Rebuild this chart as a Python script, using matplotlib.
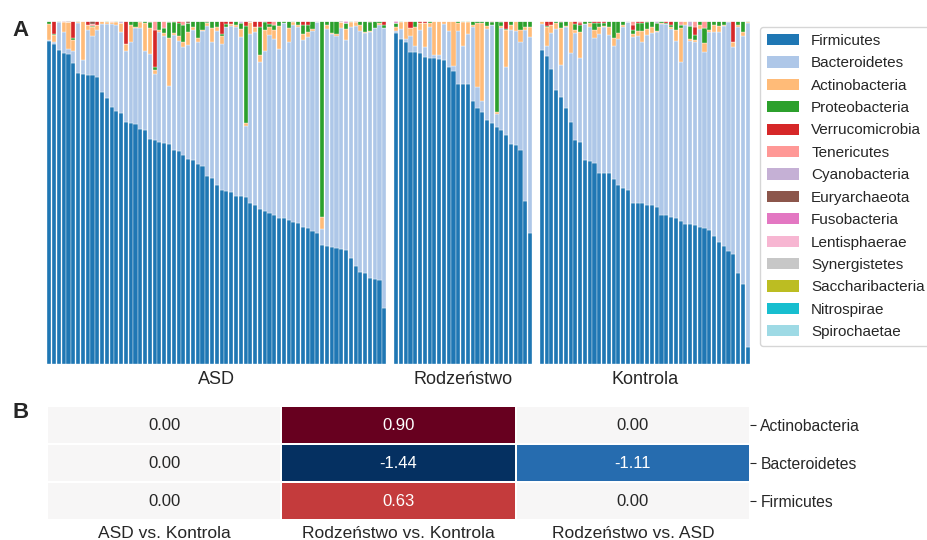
import numpy as np
import matplotlib
matplotlib.use("Agg")
import matplotlib.pyplot as plt
from matplotlib.colors import TwoSlopeNorm
from matplotlib.patches import Patch

plt.rcParams["font.family"] = ["Liberation Sans", "DejaVu Sans"]
plt.rcParams["text.color"] = "#262626"
plt.rcParams["xtick.labelcolor"] = "#262626"
plt.rcParams["ytick.labelcolor"] = "#262626"

# ---- phylum composition (% relative abundance) per sample ----
phyla = ["Firmicutes", "Bacteroidetes", "Actinobacteria", "Proteobacteria",
         "Verrucomicrobia", "Tenericutes", "Cyanobacteria", "Euryarchaeota",
         "Fusobacteria", "Lentisphaerae", "Synergistetes", "Saccharibacteria",
         "Nitrospirae", "Spirochaetae"]
phylum_colors = ["#1f77b4", "#aec7e8", "#ffbb78", "#2ca02c", "#d62728", "#ff9896",
                 "#c5b0d5", "#8c564b", "#e377c2", "#f7b6d2", "#c7c7c7", "#bcbd22",
                 "#17becf", "#9edae5"]

groups = ["ASD", "Rodzeństwo", "Kontrola"]

asd_firmicutes = [94.2, 93.1, 91.5, 90.6, 90.4, 87.6, 84.9, 84.6, 84.3, 84.1,
                  83.7, 79.1, 77.4, 75.0, 73.7, 73.1, 70.4, 70.3, 69.9, 68.5,
                  68.3, 65.5, 65.2, 64.7, 64.4, 64.0, 62.4, 61.9, 60.9, 59.6,
                  59.4, 58.4, 57.6, 54.9, 54.2, 52.2, 50.8, 50.3, 50.2, 48.9,
                  48.9, 48.7, 46.8, 46.4, 45.2, 44.6, 44.0, 43.5, 42.6, 42.6,
                  42.0, 41.4, 41.0, 39.9, 39.5, 38.6, 38.2, 34.7, 34.5, 34.1,
                  33.7, 33.4, 33.1, 30.8, 28.6, 26.8, 26.6, 25.1, 24.9, 24.4,
                  16.4]
asd_bacteroidetes = [0.1, 0.6, 8.0, 6.2, 1.5, 3.6, 14.5, 4.0, 12.9, 11.3,
                     13.5, 19.9, 21.5, 23.9, 25.0, 23.7, 20.8, 23.4, 28.1, 29.5,
                     22.9, 24.7, 19.4, 32.1, 31.2, 17.0, 33.3, 32.1, 31.4, 33.3,
                     37.9, 35.5, 39.4, 43.7, 39.7, 44.9, 42.4, 47.9, 48.3, 49.3,
                     46.4, 20.7, 49.2, 50.4, 42.9, 46.6, 51.8, 51.1, 49.3, 56.6,
                     51.9, 57.3, 57.2, 54.5, 55.8, 58.5, 61.3, 4.5, 63.0, 61.9,
                     61.7, 64.4, 61.2, 67.4, 69.8, 70.2, 69.7, 71.5, 72.9, 74.3,
                     81.5]
asd_actinobacteria = [4.7, 2.2, 0, 2.7, 7.8, 3.2, 0.3, 11.4, 1.5, 2.9,
                      1.5, 1.0, 0.6, 0.6, 0.8, 2.4, 2.0, 5.0, 0.3, 1.5,
                      8.0, 7.6, 1.0, 0.5, 0.7, 14.0, 0.8, 1.5, 1.6, 3.9,
                      1.0, 1.0, 0.3, 0.8, 3.9, 1.0, 2.4, 0, 0.5, 0.5,
                      2.2, 0.7, 3.7, 1.5, 1.9, 6.1, 2.4, 2.6, 6.5, 0,
                      4.1, 1.0, 0.5, 1.7, 1.5, 0.5, 0, 3.7, 1.2, 0.3,
                      0.6, 1.7, 3.4, 1.3, 1.3, 1.7, 0.5, 0.4, 0, 0.5,
                      0]
asd_proteobacteria = [1.0, 0.2, 0.5, 0, 0, 0.5, 0.3, 0, 0, 0.2,
                      0, 0, 0.5, 0, 0.5, 0, 0, 1.3, 1.7, 0.5,
                      0.8, 1.7, 1.0, 2.7, 1.7, 4.7, 3.2, 3.7, 4.9, 2.4,
                      1.7, 5.1, 2.7, 0.3, 2.2, 1.9, 0.5, 0.7, 0, 1.3,
                      1.7, 28.4, 0, 0, 8.3, 2.4, 0.7, 1.5, 1.6, 0.8,
                      2.0, 0.3, 1.3, 2.6, 1.9, 2.4, 0, 57.1, 1.3, 3.7,
                      4.0, 0, 1.5, 0.5, 0, 1.3, 3.2, 2.5, 2.2, 0.8,
                      0.8]
asd_verrucomicrobia = [0, 3.9, 0, 0.5, 0, 5.1, 0, 0, 1.3, 0,
                       1.3, 0, 0, 0, 0, 0, 6.8, 0, 0, 0,
                       0, 0, 10.7, 0, 0, 0, 0.3, 0.8, 0, 0,
                       0, 0, 0, 0.3, 0, 0, 3.9, 1.1, 1.0, 0,
                       0, 1.5, 0, 1.7, 1.7, 0.3, 1.1, 0, 0, 0,
                       0, 0, 0, 1.3, 1.3, 0, 0, 0, 0, 0,
                       0, 0, 0, 0, 0.3, 0, 0, 0.5, 0, 0,
                       1.3]
# minor phyla: {sample index: %}
asd_minor = {
    "Tenericutes": {9: 0.5, 13: 0.5, 21: 0.5, 22: 2.7, 24: 2.0, 28: 1.2, 47: 1.3},
    "Cyanobacteria": {15: 0.8, 25: 0.3, 40: 0.8, 56: 0.5},
    "Euryarchaeota": {4: 0.3, 9: 1.0, 29: 0.8, 42: 0.3, 61: 0.5},
    "Fusobacteria": {62: 0.8},
}

sib_firmicutes = [96.5, 94.6, 93.9, 91.0, 90.8, 90.5, 89.5, 89.1, 89.1, 88.7,
                  88.5, 86.5, 85.4, 81.6, 81.6, 81.6, 76.6, 74.7, 73.5, 71.1,
                  70.3, 68.9, 68.3, 66.8, 64.0, 63.8, 62.3, 47.4, 38.2]
sib_bacteroidetes = [0.5, 2.9, 0.8, 4.6, 1.7, 6.8, 2.8, 9.2, 0.9, 1.3,
                     10.5, 10.5, 1.4, 15.4, 10.9, 14.5, 21.6, 6.1, 3.2, 26.6,
                     28.4, 3.9, 29.6, 19.8, 33.2, 33.2, 31.6, 49.9, 57.0]
sib_actinobacteria = [1.2, 2.2, 5.3, 2.2, 5.6, 1.9, 7.0, 1.0, 10.0, 10.0,
                      1.0, 3.0, 13.2, 2.2, 7.0, 3.4, 0.5, 18.4, 22.5, 0.8,
                      0, 0.7, 0.5, 10.7, 1.5, 3.0, 3.4, 0.8, 2.9]
sib_proteobacteria = [1.0, 0.3, 0, 0, 1.9, 0, 0, 0.7, 0, 0,
                      0, 0, 0, 0.8, 0.5, 0.5, 1.3, 0.8, 0.8, 1.5,
                      1.0, 26.5, 1.2, 0.2, 1.3, 0, 2.7, 1.9, 1.9]
sib_verrucomicrobia = [0, 0, 0, 2.2, 0, 0.8, 0.7, 0, 0, 0,
                       0, 0, 0, 0, 0, 0, 0, 0, 0, 0,
                       0.3, 0, 0.4, 2.5, 0, 0, 0, 0, 0]
sib_minor = {"Fusobacteria": {0: 0.8}}

ctl_firmicutes = [91.4, 89.7, 85.9, 79.9, 77.7, 74.6, 70.5, 65.2, 64.7, 59.5,
                  59.1, 58.5, 55.6, 55.6, 55.6, 53.9, 52.1, 51.3, 50.8, 47.0,
                  47.0, 47.0, 46.4, 46.3, 45.8, 43.5, 43.5, 42.9, 42.6, 41.6,
                  40.9, 40.9, 40.4, 39.9, 39.6, 39.1, 37.3, 35.5, 34.5, 32.9,
                  31.9, 26.6, 23.3, 4.9]
ctl_bacteroidetes = [7.6, 2.9, 10.6, 17.8, 9.3, 23.6, 20.0, 31.1, 24.3, 39.5,
                     39.1, 36.4, 40.5, 42.5, 40.3, 38.6, 42.5, 46.9, 48.9, 48.2,
                     48.4, 46.9, 49.4, 50.1, 50.9, 55.4, 55.4, 54.8, 51.6, 46.4,
                     57.9, 53.3, 53.5, 57.6, 51.4, 57.7, 59.5, 61.1, 63.9, 66.8,
                     60.5, 71.6, 72.3, 94.3]
ctl_actinobacteria = [1.0, 5.6, 2.2, 1.5, 10.8, 0.3, 9.5, 1.0, 7.8, 0,
                      1.0, 2.4, 2.1, 0.3, 2.2, 2.4, 1.9, 0.5, 0, 0.8,
                      1.7, 3.2, 1.7, 1.7, 0.4, 0.3, 0, 0.5, 3.1, 10.0,
                      1.2, 0.4, 0.5, 1.2, 2.4, 0.5, 1.9, 1.9, 0.3, 0.3,
                      1.5, 0.5, 1.2, 0.5]
ctl_proteobacteria = [0, 0.3, 0, 0.8, 1.9, 1.5, 0, 1.7, 1.9, 1.0,
                      0.8, 2.1, 1.0, 1.0, 1.9, 5.1, 3.5, 1.3, 0, 1.2,
                      2.3, 2.1, 2.1, 1.9, 2.1, 0.8, 0.3, 0.5, 2.7, 0.7,
                      0, 3.9, 1.5, 1.3, 4.4, 2.7, 1.3, 1.5, 1.3, 0,
                      0, 1.3, 3.2, 0.3]
ctl_verrucomicrobia = [0, 1.5, 1.3, 0, 0.3, 0, 0, 1.0, 0.5, 0,
                       0, 0.6, 0.8, 0.6, 0, 0, 0, 0, 0, 1.5,
                       0.6, 0.8, 0.4, 0, 0, 0, 0.8, 1.3, 0, 0,
                       0, 0, 2.4, 0, 0, 0, 0, 0, 0, 0,
                       6.1, 0, 0, 0]
ctl_minor = {
    "Tenericutes": {8: 0.8, 19: 1.3, 29: 1.3, 32: 1.7, 34: 2.2},
    "Cyanobacteria": {18: 0.3, 24: 0.8, 31: 1.5},
}

# ---- differential abundance (heatmap) ----
comparisons = ["ASD vs. Kontrola", "Rodzeństwo vs. Kontrola", "Rodzeństwo vs. ASD"]
tested_phyla = ["Actinobacteria", "Bacteroidetes", "Firmicutes"]
effect_values = [[0.00, 0.90, 0.00],
                 [0.00, -1.44, -1.11],
                 [0.00, 0.63, 0.00]]


def build_matrix(major, minor, n):
    mat = np.zeros((len(phyla), n))
    for name, vals in major.items():
        mat[phyla.index(name)] = vals
    for name, entries in minor.items():
        for idx, v in entries.items():
            mat[phyla.index(name), idx] = v
    return mat / mat.sum(axis=0, keepdims=True)


group_data = [
    build_matrix({"Firmicutes": asd_firmicutes, "Bacteroidetes": asd_bacteroidetes,
                  "Actinobacteria": asd_actinobacteria, "Proteobacteria": asd_proteobacteria,
                  "Verrucomicrobia": asd_verrucomicrobia}, asd_minor, len(asd_firmicutes)),
    build_matrix({"Firmicutes": sib_firmicutes, "Bacteroidetes": sib_bacteroidetes,
                  "Actinobacteria": sib_actinobacteria, "Proteobacteria": sib_proteobacteria,
                  "Verrucomicrobia": sib_verrucomicrobia}, sib_minor, len(sib_firmicutes)),
    build_matrix({"Firmicutes": ctl_firmicutes, "Bacteroidetes": ctl_bacteroidetes,
                  "Actinobacteria": ctl_actinobacteria, "Proteobacteria": ctl_proteobacteria,
                  "Verrucomicrobia": ctl_verrucomicrobia}, ctl_minor, len(ctl_firmicutes)),
]

W, H = 927, 540
fig = plt.figure(figsize=(W / 100, H / 100), dpi=100)

# panel A: stacked bars, one axis per group, widths proportional to sample count
left_px, right_px, gap_px = 47, 750, 7
top_px, bottom_px = 20.7, 364
counts = [m.shape[1] for m in group_data]
unit = (right_px - left_px - gap_px * (len(counts) - 1)) / sum(counts)
x0 = left_px
for name, mat in zip(groups, group_data):
    n = mat.shape[1]
    wpx = n * unit
    ax = fig.add_axes([x0 / W, 1 - bottom_px / H, wpx / W, (bottom_px - top_px) / H])
    x = np.arange(n)
    base = np.zeros(n)
    for k in range(len(phyla)):
        ax.bar(x, mat[k], bottom=base, width=0.86, color=phylum_colors[k],
               edgecolor="white", linewidth=0.25)
        base += mat[k]
    ax.set_xlim(-0.5, n - 0.5)
    ax.set_ylim(0, 1)
    ax.set_xticks([])
    ax.set_yticks([])
    for s in ax.spines.values():
        s.set_visible(False)
    ax.text(0.5, -16 / (bottom_px - top_px), name, transform=ax.transAxes,
            ha="center", va="center", fontsize=13)
    x0 += wpx + gap_px

handles = [Patch(facecolor=c, edgecolor="none") for c in phylum_colors]
fig.legend(handles, phyla, loc="upper left", bbox_to_anchor=(760 / W, 1 - 27 / H),
           fontsize=11, frameon=True, fancybox=True, edgecolor="#cccccc",
           labelspacing=0.55, handlelength=2.1, handleheight=0.75,
           handletextpad=0.8, borderpad=0.45, borderaxespad=0)

# panel B: heatmap
hx0, hx1, hy0, hy1 = 47, 750, 406, 520
hax = fig.add_axes([hx0 / W, 1 - hy1 / H, (hx1 - hx0) / W, (hy1 - hy0) / H])
vals = np.array(effect_values)
norm = TwoSlopeNorm(vmin=vals.min(), vcenter=0.0, vmax=vals.max())
hax.pcolormesh(np.arange(len(comparisons) + 1), np.arange(len(tested_phyla) + 1), vals,
               cmap="RdBu_r", norm=norm, edgecolors="white", linewidth=1.2)
hax.set_xlim(0, len(comparisons))
hax.set_ylim(len(tested_phyla), 0)
for i in range(len(tested_phyla)):
    for j in range(len(comparisons)):
        v = vals[i, j]
        hax.text(j + 0.5, i + 0.5, f"{v:.2f}", ha="center", va="center", fontsize=12,
                 color="white" if abs(v) > 0.3 else "#262626")
for s in hax.spines.values():
    s.set_visible(False)
hax.set_xticks(np.arange(len(comparisons)) + 0.5)
hax.set_xticklabels(comparisons, fontsize=12.5)
hax.tick_params(axis="x", length=0, pad=4)
hax.yaxis.tick_right()
hax.set_yticks(np.arange(len(tested_phyla)) + 0.5)
hax.set_yticklabels(tested_phyla, fontsize=11.3)
hax.tick_params(axis="y", length=4.5, width=0.8, color="#262626", pad=3)

fig.text(12 / W, 1 - 30 / H, "A", fontsize=16, fontweight="bold", ha="left", va="center")
fig.text(12 / W, 1 - 412 / H, "B", fontsize=16, fontweight="bold", ha="left", va="center")

fig.savefig("out.png", dpi=100, facecolor="white")
